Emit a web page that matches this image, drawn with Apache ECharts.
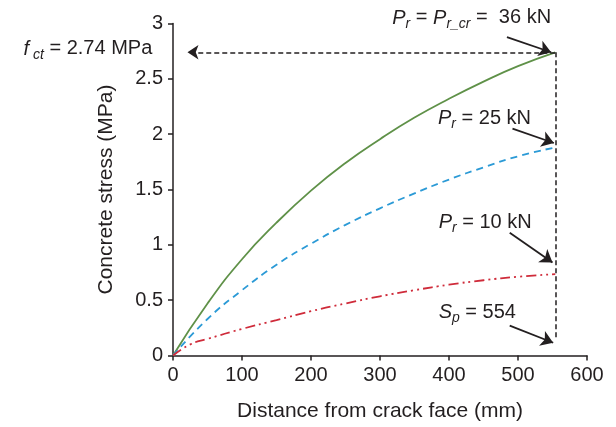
<!DOCTYPE html>
<html><head><meta charset="utf-8">
<script src="https://cdn.jsdelivr.net/npm/echarts@6/dist/echarts.min.js"></script>
<style>html,body{margin:0;padding:0;background:#fff}#c{width:616px;height:427px}</style>
</head><body><div id="c"></div>
<script>
// ---- data ----
const xTicks = [0, 100, 200, 300, 400, 500, 600];
const yTicks = [0, 0.5, 1, 1.5, 2, 2.5, 3];
const seriesNames = ['Pr = 36 kN', 'Pr = 25 kN', 'Pr = 10 kN'];
const green36 = [[0,0],[50,0.47],[100,0.87],[150,1.20],[200,1.49],[250,1.74],[300,1.955],[350,2.15],[400,2.32],[450,2.475],[500,2.615],[554,2.74]];
const blue25  = [[0,0],[50,0.33],[100,0.59],[150,0.82],[200,1.01],[250,1.18],[300,1.33],[350,1.465],[400,1.59],[450,1.70],[500,1.80],[554,1.88]];
const red10   = [[0,0],[25,0.10],[50,0.15],[100,0.24],[150,0.32],[200,0.40],[250,0.47],[300,0.535],[350,0.59],[400,0.64],[450,0.68],[500,0.712],[554,0.735]];
const Sp = 554;
const fct = 2.74;

const FONT = '"Liberation Sans", Arial, Helvetica, sans-serif';
const TXT = '#231f20';
const chart = echarts.init(document.getElementById('c'), null, {renderer: 'canvas'});

const rich = {
  i: {fontSize: 20, fontStyle: 'italic', fontFamily: FONT, color: TXT},
  s: {fontSize: 14, fontStyle: 'italic', fontFamily: FONT, color: TXT, padding: [12, 0, 0, 0]},
  n: {fontSize: 20, fontFamily: FONT, color: TXT}
};

function seg(a, b, style, withArrow, size) {
  const ls = Object.assign({}, style);
  return [
    {coord: a, symbol: 'none', lineStyle: ls},
    {coord: b, symbol: withArrow ? 'arrow' : 'none', symbolSize: size || 12, lineStyle: ls}
  ];
}
const dashed = {color: TXT, width: 1.5, type: [5, 3]};
const solid = {color: TXT, width: 1.8, type: 'solid'};

const option = {
  animation: false,
  backgroundColor: '#fff',
  grid: {left: 173, right: 29, top: 23.5, bottom: 71.5, containLabel: false},
  xAxis: {
    type: 'value', min: 0, max: 600, interval: 100,
    name: 'Distance from crack face (mm)', nameLocation: 'middle', nameGap: 45,
    nameTextStyle: {fontSize: 21, fontFamily: FONT, color: TXT},
    axisLine: {show: true, lineStyle: {color: TXT, width: 1.5}},
    axisTick: {show: true, inside: false, length: 5, lineStyle: {color: TXT, width: 1.5}},
    axisLabel: {fontSize: 20, fontFamily: FONT, color: TXT, margin: 10},
    splitLine: {show: false}
  },
  yAxis: {
    type: 'value', min: 0, max: 3, interval: 0.5,
    name: 'Concrete stress (MPa)', nameLocation: 'middle', nameGap: 56,
    nameTextStyle: {fontSize: 21, fontFamily: FONT, color: TXT},
    axisLine: {show: true, lineStyle: {color: TXT, width: 1.5}},
    axisTick: {show: true, inside: false, length: 5, lineStyle: {color: TXT, width: 1.5}},
    axisLabel: {fontSize: 20, fontFamily: FONT, color: TXT, margin: 10},
    splitLine: {show: false}
  },
  series: [
    {name: seriesNames[0], type: 'line', data: green36, smooth: 0.5, showSymbol: false, clip: false,
     lineStyle: {color: '#5f9148', width: 1.8}},
    {name: seriesNames[1], type: 'line', data: blue25, smooth: 0.5, showSymbol: false, clip: false,
     lineStyle: {color: '#2b9ad6', width: 1.8, type: [7, 5]}},
    {name: seriesNames[2], type: 'line', data: red10, smooth: 0.5, showSymbol: false, clip: false,
     lineStyle: {color: '#cf2b3a', width: 1.8, type: [10, 4, 2, 4, 2, 4]}},
    {name: 'annot', type: 'line', data: [[Sp, fct]], showSymbol: false, clip: false, silent: true,
     lineStyle: {opacity: 0},
     markLine: {
       silent: true, animation: false,
       label: {show: false},
       emphasis: {disabled: true},
       data: [
         seg([Sp, fct], [21, fct], dashed, true, 11),
         seg([Sp, fct], [Sp, 0.15], dashed, false),
         seg([484, 2.877], [548, 2.74], solid, true),
         seg([492, 2.05], [552, 1.92], solid, true),
         seg([488, 1.11], [550, 0.84], solid, true),
         seg([488, 0.27], [551, 0.115], solid, true)
       ]
     }}
  ]
};
chart.setOption(option);

const labels = [
  {at: [548, 3.05], align: 'right', text: '{i|P}{s|r}{n| = }{i|P}{s|r_cr}{n| =  36 kN}'},
  {at: [384, 2.145], align: 'left', text: '{i|P}{s|r}{n| = 25 kN}'},
  {at: [385, 1.205], align: 'left', text: '{i|P}{s|r}{n| = 10 kN}'},
  {at: [385, 0.39], align: 'left', text: '{i|S}{s|p}{n| = 554}'},
  {at: [-30, 2.77], align: 'right', text: '{i|f}{s| ct}{n| = 2.74 MPa}'}
];
const graphics = labels.map(l => {
  const p = chart.convertToPixel({gridIndex: 0}, l.at);
  return {type: 'text', x: p[0], y: p[1], silent: true,
    style: {text: l.text, rich: rich, align: l.align, verticalAlign: 'middle', fill: TXT, font: '20px ' + FONT}};
});
chart.setOption({graphic: graphics});
</script>
</body></html>
